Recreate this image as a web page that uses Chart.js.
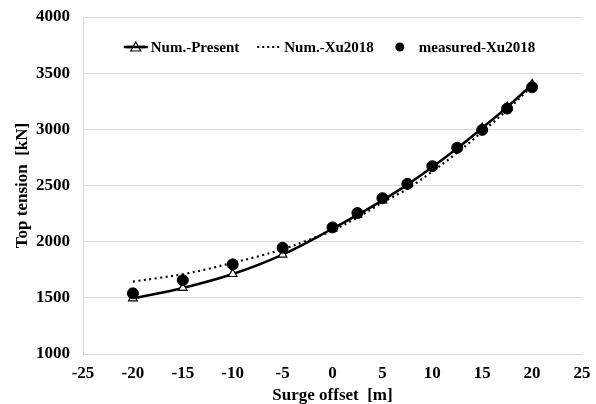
<!DOCTYPE html>
<html>
<head>
<meta charset="utf-8">
<script src="https://cdn.jsdelivr.net/npm/chart.js@4/dist/chart.umd.min.js"></script>
<style>
  html, body { margin: 0; padding: 0; background: #fff; }
  #wrap { width: 596px; height: 404px; }
</style>
</head>
<body>
<div id="wrap"><canvas id="c" width="596" height="404"></canvas></div>
<script>
// Surge offset [m] at which tensions are given
const offsets = [-20, -15, -10, -5, 0, 2.5, 5, 7.5, 10, 12.5, 15, 17.5, 20];
// Top tension [kN], present numerical model
const presentTension = [1495, 1588, 1712, 1885, 2115, 2238, 2368, 2508, 2665, 2832, 3012, 3198, 3400];
// Top tension [kN], measured (Xu 2018)
const measuredTension = [1540, 1657, 1798, 1946, 2127, 2255, 2387, 2515, 2672, 2836, 2995, 3185, 3375];
// Top tension [kN], numerical (Xu 2018)
const xuOffsets = [-20, -17.5, -15, -12.5, -10, -7.5, -5, -2.5, 0, 2.5, 5, 7.5, 10, 12.5, 15, 17.5, 20];
const xuTension = [1645, 1676, 1710, 1757, 1812, 1868, 1932, 2012, 2100, 2215, 2348, 2470, 2625, 2792, 2978, 3172, 3385];

const xTicks = [-25, -20, -15, -10, -5, 0, 5, 10, 15, 20, 25];
const yTicks = [1000, 1500, 2000, 2500, 3000, 3500, 4000];

const seriesNames = ['Num.-Present', 'Num.-Xu2018', 'measured-Xu2018'];

const FONT = '"Liberation Serif", "Times New Roman", serif';

const pts = (xs, ys) => xs.map((x, i) => ({ x, y: ys[i] }));

// legend drawn inside the plot area, with line+marker symbols
const innerLegend = {
  id: 'innerLegend',
  afterDraw(chart) {
    const { ctx, chartArea } = chart;
    ctx.save();
    ctx.font = 'bold 15px ' + FONT;
    ctx.textBaseline = 'middle';
    ctx.fillStyle = '#000';
    const sym = 24, gap = 3, itemGap = 18;
    const widths = seriesNames.map(n => sym + gap + ctx.measureText(n).width);
    const total = widths.reduce((a, b) => a + b, 0) + itemGap * (widths.length - 1);
    let x = (chartArea.left + chartArea.right) / 2 - total / 2 - 3;
    const y = chartArea.top + 30;
    seriesNames.forEach((name, i) => {
      ctx.strokeStyle = '#000';
      ctx.setLineDash([]);
      if (i === 0) {
        ctx.lineWidth = 2.5;
        ctx.beginPath(); ctx.moveTo(x, y); ctx.lineTo(x + sym, y); ctx.stroke();
        ctx.lineWidth = 1.2;
        ctx.fillStyle = '#fff';
        ctx.beginPath();
        ctx.moveTo(x + sym / 2, y - 5);
        ctx.lineTo(x + sym / 2 + 5, y + 4);
        ctx.lineTo(x + sym / 2 - 5, y + 4);
        ctx.closePath(); ctx.fill(); ctx.stroke();
        ctx.beginPath(); ctx.moveTo(x + 3, y); ctx.lineTo(x + sym - 3, y); ctx.lineWidth = 2.5; ctx.stroke();
      } else if (i === 1) {
        ctx.lineWidth = 2;
        ctx.setLineDash([2, 3]);
        ctx.beginPath(); ctx.moveTo(x, y); ctx.lineTo(x + sym, y); ctx.stroke();
        ctx.setLineDash([]);
      } else {
        ctx.fillStyle = '#000';
        ctx.beginPath(); ctx.arc(x + 8, y, 4.5, 0, Math.PI * 2); ctx.fill();
      }
      ctx.fillStyle = '#000';
      ctx.fillText(name, x + sym + gap, y + 1);
      x += widths[i] + itemGap;
    });
    ctx.restore();
  }
};

new Chart(document.getElementById('c'), {
  type: 'line',
  data: {
    datasets: [
      {
        label: seriesNames[0],
        data: pts(offsets, presentTension),
        borderColor: '#000',
        borderWidth: 2.5,
        tension: 0.35,
        pointStyle: 'triangle',
        pointRadius: 5,
        pointBackgroundColor: '#fff',
        pointBorderColor: '#000',
        pointBorderWidth: 1.2,
        order: 1
      },
      {
        label: seriesNames[1],
        data: pts(xuOffsets, xuTension),
        borderColor: '#000',
        borderWidth: 2.2,
        borderDash: [2, 3.5],
        tension: 0.35,
        pointRadius: 0,
        order: 2
      },
      {
        label: seriesNames[2],
        data: pts(offsets, measuredTension),
        showLine: false,
        pointStyle: 'circle',
        pointRadius: 5.5,
        pointBackgroundColor: '#000',
        pointBorderColor: '#000',
        order: 0
      }
    ]
  },
  options: {
    responsive: false,
    animation: false,
    devicePixelRatio: 1,
    layout: { padding: { left: 0, right: 14, top: 17, bottom: 0 } },
    plugins: {
      legend: { display: false },
      tooltip: { enabled: false }
    },
    scales: {
      x: {
        type: 'linear',
        min: -25, max: 25,
        afterBuildTicks: s => { s.ticks = xTicks.map(v => ({ value: v })); },
        afterFit: s => { s.height = 50; s.paddingLeft = 0; s.paddingRight = 0; },
        grid: { display: false, drawTicks: false },
        border: { display: false },
        ticks: { color: '#000', padding: 9, callback: v => String(v),
                 font: { family: FONT, size: 17, weight: 'bold' } },
        title: { display: true, text: 'Surge offset  [m]', color: '#000', padding: { top: 0, bottom: -2 },
                 font: { family: FONT, size: 17, weight: 'bold' } }
      },
      y: {
        min: 1000, max: 4000,
        afterBuildTicks: s => { s.ticks = yTicks.map(v => ({ value: v })); },
        afterFit: s => { s.width = 83; s.paddingTop = 0; s.paddingBottom = 0; },
        grid: { color: '#d9d9d9', lineWidth: 1, drawTicks: false },
        border: { display: true, color: '#d9d9d9' },
        ticks: { color: '#000', padding: 13, callback: v => String(v),
                 font: { family: FONT, size: 17, weight: 'bold' } },
        title: { display: true, text: 'Top tension  [kN]', color: '#000', padding: { top: 12, bottom: 0 },
                 font: { family: FONT, size: 17, weight: 'bold' } }
      }
    }
  },
  plugins: [innerLegend]
});
</script>
</body>
</html>
